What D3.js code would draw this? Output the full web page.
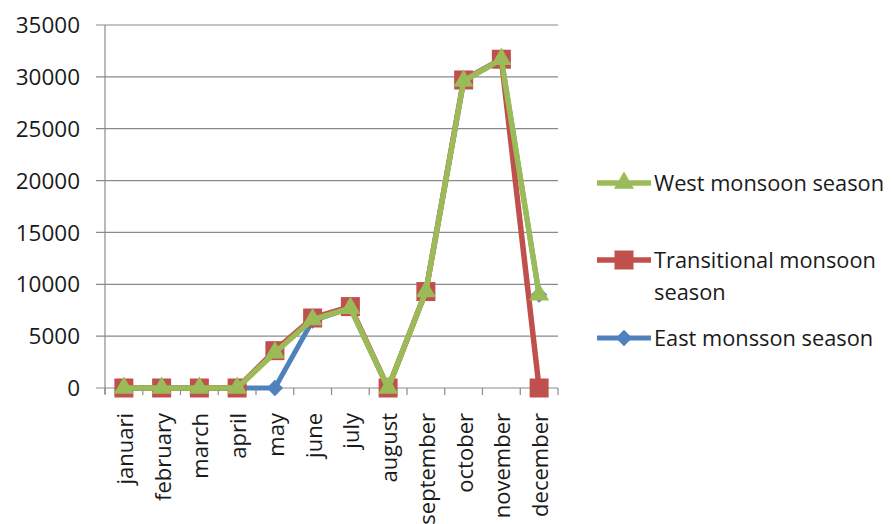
<!DOCTYPE html>
<html>
<head>
<meta charset="utf-8">
<script src="https://cdn.jsdelivr.net/npm/d3@7"></script>
<style>
  html, body { margin: 0; padding: 0; background: #fff; }
  svg text { font-family: "Open Sans", "Noto Sans", sans-serif; fill: #1a1a1a; }
</style>
</head>
<body>
<div id="chart"></div>
<script>
const months = ['januari', 'february', 'march', 'april', 'may', 'june', 'july',
  'august', 'september', 'october', 'november', 'december'];
const westValues = [0, 0, 0, 0, 3400, 6600, 7700, 0, 9300, 29600, 31700, 9000];
const transitionalValues = [0, 0, 0, 0, 3600, 6750, 7850, 0, 9300, 29700, 31700, 0];
const eastValues = [0, 0, 0, 0, 0, 6500, 7700, 0, 9300, 29600, 31700, 9000];
const yTicks = [0, 5000, 10000, 15000, 20000, 25000, 30000, 35000];

const width = 892, height = 524;
const plotLeft = 105, plotRight = 558, plotTop = 25, plotBottom = 388;

const svg = d3.select('#chart').append('svg')
  .attr('width', width)
  .attr('height', height);

const x = d3.scaleBand().domain(months).range([plotLeft, plotRight]);
const y = d3.scaleLinear().domain([0, 35000]).range([plotBottom, plotTop]);

// gridlines + y ticks
svg.append('g')
  .selectAll('line')
  .data(yTicks.filter(d => d > 0))
  .join('line')
  .attr('x1', plotLeft - 9).attr('x2', plotRight)
  .attr('y1', d => y(d)).attr('y2', d => y(d))
  .attr('stroke', '#8a8a8a').attr('stroke-width', 1.2);

svg.append('g')
  .selectAll('text')
  .data(yTicks)
  .join('text')
  .attr('x', 80)
  .attr('y', d => y(d))
  .attr('dy', '0.36em')
  .attr('text-anchor', 'end')
  .attr('font-size', 22.5)
  .text(d => d);

// y axis line
svg.append('line')
  .attr('x1', plotLeft).attr('x2', plotLeft)
  .attr('y1', plotTop).attr('y2', plotBottom + 6)
  .attr('stroke', '#8a8a8a').attr('stroke-width', 1.2);

// x axis line + ticks
svg.append('line')
  .attr('x1', plotLeft - 9).attr('x2', plotRight)
  .attr('y1', plotBottom).attr('y2', plotBottom)
  .attr('stroke', '#8a8a8a').attr('stroke-width', 1.2);

const bounds = months.map(m => x(m)).concat([plotRight]);
svg.append('g')
  .selectAll('line')
  .data(bounds)
  .join('line')
  .attr('x1', d => d).attr('x2', d => d)
  .attr('y1', plotBottom).attr('y2', plotBottom + 7)
  .attr('stroke', '#8a8a8a').attr('stroke-width', 1.2);

// x labels, rotated
svg.append('g')
  .selectAll('text')
  .data(months)
  .join('text')
  .attr('transform', d => `translate(${x(d) + x.bandwidth() / 2 + 1},${plotBottom + 25}) rotate(-90)`)
  .attr('dy', '0.36em')
  .attr('text-anchor', 'end')
  .attr('font-size', 22)
  .text(d => d);

const line = d3.line()
  .x((d, i) => x(months[i]) + x.bandwidth() / 2)
  .y(d => y(d));

const series = [
  { name: 'East monsson season', values: eastValues, color: '#4F81BD', width: 5, marker: 'diamond' },
  { name: 'Transitional monsoon season', values: transitionalValues, color: '#C0504D', width: 5.5, marker: 'square' },
  { name: 'West monsoon season', values: westValues, color: '#9BBB59', width: 5.5, marker: 'triangle' }
];

const symbols = {
  diamond: d3.symbol().type(d3.symbolDiamond2).size(170),
  square: d3.symbol().type(d3.symbolSquare).size(361),
  triangle: d3.symbol().type(d3.symbolTriangle2).size(290)
};

series.forEach(s => {
  const g = svg.append('g');
  g.append('path')
    .datum(s.values)
    .attr('d', line)
    .attr('fill', 'none')
    .attr('stroke', s.color)
    .attr('stroke-width', s.width)
    .attr('stroke-linejoin', 'round');
  g.selectAll('path.mk')
    .data(s.values)
    .join('path')
    .attr('class', 'mk')
    .attr('transform', (d, i) => `translate(${x(months[i]) + x.bandwidth() / 2},${y(d)})`)
    .attr('d', symbols[s.marker])
    .attr('fill', s.color);
});

// legend
const legendRows = [
  { s: series[2], y: 183, lines: ['West monsoon season'] },
  { s: series[1], y: 260, lines: ['Transitional monsoon', 'season'] },
  { s: series[0], y: 338, lines: ['East monsson season'] }
];
const lg = svg.append('g');
legendRows.forEach(r => {
  lg.append('line')
    .attr('x1', 597).attr('x2', 651)
    .attr('y1', r.y).attr('y2', r.y)
    .attr('stroke', r.s.color).attr('stroke-width', r.s.width);
  lg.append('path')
    .attr('transform', `translate(624,${r.y})`)
    .attr('d', symbols[r.s.marker])
    .attr('fill', r.s.color);
  r.lines.forEach((t, k) => {
    lg.append('text')
      .attr('x', 654)
      .attr('y', r.y + k * 32)
      .attr('dy', '0.36em')
      .attr('font-size', 21.8)
      .text(t);
  });
});
</script>
</body>
</html>
